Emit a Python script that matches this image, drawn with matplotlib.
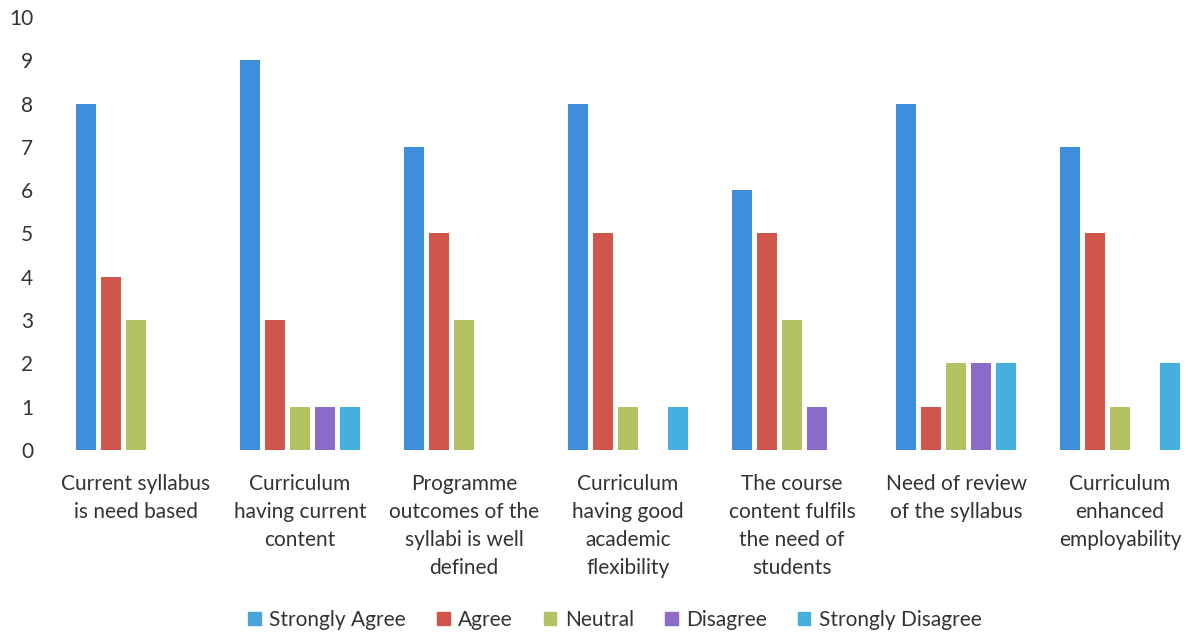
import numpy as np
import matplotlib.pyplot as plt
from matplotlib.patches import Patch

categories = [
    "Current syllabus\nis need based",
    "Curriculum\nhaving current\ncontent",
    "Programme\noutcomes of the\nsyllabi is well\ndefined",
    "Curriculum\nhaving good\nacademic\nflexibility",
    "The course\ncontent fulfils\nthe need of\nstudents",
    "Need of review\nof the syllabus",
    "Curriculum\nenhanced\nemployability",
]
series = ["Strongly Agree", "Agree", "Neutral", "Disagree", "Strongly Disagree"]
strongly_agree = [8, 9, 7, 8, 6, 8, 7]
agree = [4, 3, 5, 5, 5, 1, 5]
neutral = [3, 1, 3, 1, 3, 2, 1]
disagree = [0, 1, 0, 0, 1, 2, 0]
strongly_disagree = [0, 1, 0, 1, 0, 2, 2]
yticks = list(range(0, 11))

values = [strongly_agree, agree, neutral, disagree, strongly_disagree]
colors = ["#3d8fdc", "#d0564b", "#b4c264", "#8c6ac8", "#45afdd"]
legend_colors = ["#4aa3d9", "#d0564b", "#b4c264", "#8c6ac8", "#45afdd"]

plt.rcParams['font.family'] = ['Lato', 'DejaVu Sans']

W, H = 1189, 635
fig = plt.figure(figsize=(W / 100, H / 100), dpi=100)
step = 164.0
left_px = 54
ax = fig.add_axes([left_px / W, 1 - 450 / H, (W - left_px) / W, (450 - 17) / H])

x = np.arange(len(categories))
bw = 20 / step
off = 25 / step
for j, (vals, c) in enumerate(zip(values, colors)):
    v = np.array(vals, dtype=float)
    mask = v > 0
    ax.bar(x[mask] + (j - 2) * off, v[mask], width=bw, color=c, linewidth=0)

ax.set_xlim(-0.5, -0.5 + (W - left_px) / step)
ax.set_ylim(0, 10)
ax.set_yticks(yticks)
ax.set_xticks(x)
ax.set_xticklabels(categories, fontsize=15, color="#333333", linespacing=1.5, va="top")
ax.tick_params(axis='x', length=0, pad=17)
ax.tick_params(axis='y', length=0, pad=15, labelsize=15, labelcolor="#333333")
for s in ax.spines.values():
    s.set_visible(False)

handles = [Patch(color=c, label=s) for s, c in zip(series, legend_colors)]
fig.legend(handles=handles, loc='center', bbox_to_anchor=(615 / W, 1 - 620 / H), ncol=5,
           frameon=False, fontsize=15, handlelength=0.6, handleheight=0.6,
           handletextpad=0.4, columnspacing=1.5, labelcolor="#333333")

fig.savefig("out.png", dpi=100, facecolor="white")
